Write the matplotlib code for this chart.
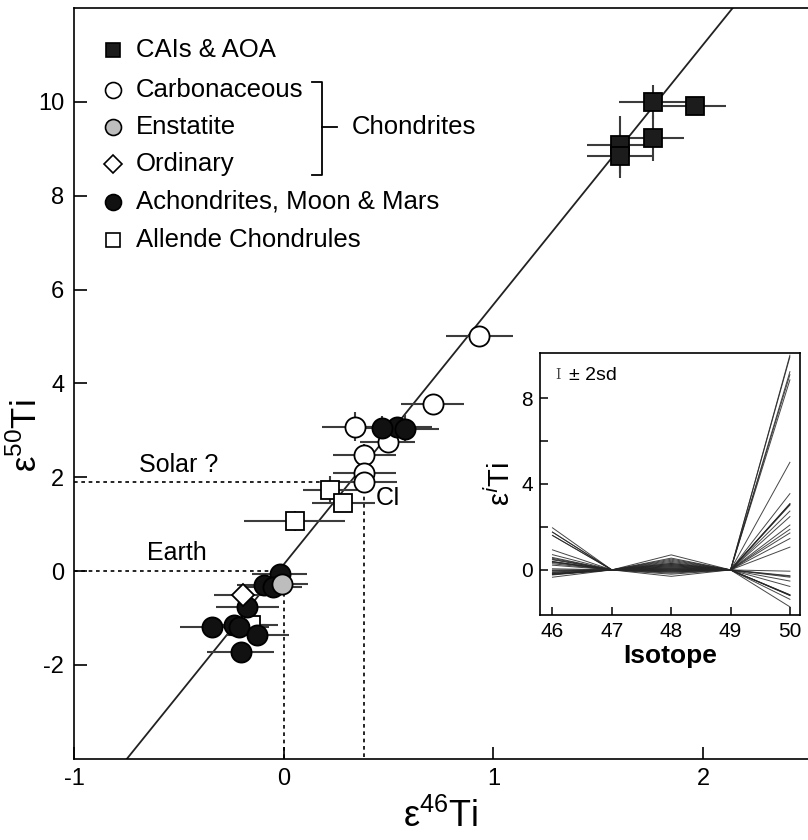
import matplotlib
matplotlib.use("Agg")
import matplotlib.pyplot as plt
import numpy as np

plt.rcParams['font.family'] = ['Liberation Sans', 'DejaVu Sans']
plt.rcParams['mathtext.fontset'] = 'custom'
plt.rcParams['mathtext.rm'] = 'Liberation Sans'

# CAIs & AOA
cai_x = [1.76, 1.96, 1.76, 1.605, 1.605]
cai_y = [10.0, 9.92, 9.23, 9.09, 8.85]
cai_xerr = [0.16, 0.15, 0.15, 0.16, 0.16]
cai_yerr = [0.36, 0.10, 0.50, 0.60, 0.47]
cai_e48 = [0.7, 0.55, 0.5, 0.45, 0.4]

# carbonaceous chondrites (last one is CI)
carb_x = [0.933, 0.71, 0.341, 0.496, 0.384, 0.384, 0.381]
carb_y = [5.01, 3.55, 3.08, 2.74, 2.48, 2.09, 1.89]
carb_xerr = [0.16, 0.15, 0.16, 0.13, 0.15, 0.15, 0.16]
carb_yerr = [0.15, 0.12, 0.30, 0.23, 0.22, 0.18, 0.10]
carb_e48 = [0.3, 0.25, 0.2, 0.15, 0.2, 0.1, 0.15]

# enstatite and ordinary chondrites
ens_x, ens_y, ens_xerr, ens_yerr, ens_e48 = [-0.006], [-0.27], [0.12], [0.12], [-0.05]
ord_x, ord_y, ord_xerr, ord_yerr, ord_e48 = [-0.193], [-0.52], [0.14], [0.15], [0.0]

# achondrites, Moon & Mars
ach_x = [0.538, 0.47, 0.58, -0.02, -0.093, -0.053, -0.173, -0.34,
         -0.236, -0.212, -0.125, -0.204]
ach_y = [3.08, 3.05, 3.02, -0.06, -0.30, -0.34, -0.77, -1.19,
         -1.16, -1.19, -1.37, -1.72]
ach_xerr = [0.17, 0.15, 0.16, 0.13, 0.13, 0.14, 0.15, 0.155,
            0.15, 0.14, 0.15, 0.16]
ach_yerr = [0.15, 0.25, 0.3, 0.15, 0.12, 0.1, 0.15, 0.12,
            0.12, 0.15, 0.12, 0.2]
ach_e48 = [0.05, 0.1, 0.0, -0.05, 0.0, -0.1, 0.05, -0.2,
           -0.1, -0.05, -0.3, -0.15]

# Allende chondrules
chon_x = [0.22, 0.285, 0.053, -0.157]
chon_y = [1.72, 1.46, 1.06, -1.16]
chon_xerr = [0.13, 0.15, 0.24, 0.13]
chon_yerr = [0.30, 0.15, 0.21, 0.15]
chon_e48 = [0.35, 0.25, 0.3, 0.05]

# correlation line and reference compositions
fit_slope, fit_intercept = 5.54, 0.14
solar_x, solar_y = 0.381, 1.89
earth_x, earth_y = 0.0, 0.0

isotopes = [46, 47, 48, 49, 50]

fig = plt.figure(figsize=(8.08, 8.4), dpi=100)
ax = fig.add_axes([74 / 808, 1 - 758.7 / 840, 1 - 74 / 808, (758.7 - 8) / 840])
xmin, xmax, ymin, ymax = -1.0, 2.5, -4.0, 12.0

ebar = dict(fmt='none', ecolor='#3c3c3c', elinewidth=1.5, capsize=0, zorder=2)
groups = [
    (cai_x, cai_y, cai_xerr, cai_yerr, dict(marker='s', ms=12.5, mfc='#1c1c1c')),
    (carb_x, carb_y, carb_xerr, carb_yerr, dict(marker='o', ms=14.5, mfc='white')),
    (chon_x, chon_y, chon_xerr, chon_yerr, dict(marker='s', ms=12.5, mfc='white')),
    (ach_x, ach_y, ach_xerr, ach_yerr, dict(marker='o', ms=14.5, mfc='#111111')),
    (ord_x, ord_y, ord_xerr, ord_yerr, dict(marker='D', ms=11, mfc='white')),
    (ens_x, ens_y, ens_xerr, ens_yerr, dict(marker='o', ms=14.5, mfc='#bdbdbd')),
]

xs = np.array([xmin, xmax])
ax.plot(xs, fit_slope * xs + fit_intercept, color='#222222', lw=1.3, zorder=1)

for gx, gy, gxe, gye, style in groups:
    ax.errorbar(gx, gy, xerr=gxe, yerr=gye, **ebar)
for gx, gy, gxe, gye, style in groups:
    ax.plot(gx, gy, ls='none', mec='black', mew=1.3, zorder=3, **style)

# Solar and Earth reference lines
dash = dict(color='black', lw=1.2, ls=(0, (2.2, 2.2)), zorder=1.5)
ax.plot([xmin, solar_x], [solar_y, solar_y], **dash)
ax.plot([solar_x, solar_x], [solar_y, ymin], **dash)
ax.plot([xmin, earth_x], [earth_y, earth_y], **dash)
ax.plot([earth_x, earth_x], [earth_y, ymin], **dash)
ax.text(-0.69, 2.25, 'Solar ?', fontsize=18, va='center', ha='left')
ax.text(-0.65, 0.38, 'Earth', fontsize=18, va='center', ha='left')
ax.text(0.44, 1.55, 'CI', fontsize=18, va='center', ha='left')

ax.set_xlim(xmin, xmax)
ax.set_ylim(ymin, ymax)
ax.set_xticks([-1, 0, 1, 2])
ax.set_xticklabels(['-1', '0', '1', '2'])
ax.set_yticks([-2, 0, 2, 4, 6, 8, 10])
ax.set_yticklabels(['-2', '0', '2', '4', '6', '8', '10'])
ax.tick_params(direction='in', length=9, width=1.2, labelsize=17, pad=7)
ax.spines['right'].set_visible(False)
for s in ['left', 'top', 'bottom']:
    ax.spines[s].set_linewidth(1.2)
ax.set_xlabel('ε$^{46}$Ti', fontsize=26, labelpad=6)
ax.set_ylabel('ε$^{50}$Ti', fontsize=25)
ax.yaxis.set_label_coords(-0.041, 0.43)

# legend drawn by hand so the chondrite bracket lines up
leg = [
    ('s', '#1c1c1c', 10, 'CAIs & AOA', 50),
    ('o', 'white', 11.5, 'Carbonaceous', 90),
    ('o', '#bdbdbd', 11.5, 'Enstatite', 127),
    ('D', 'white', 9.5, 'Ordinary', 164),
    ('o', '#111111', 11.5, 'Achondrites, Moon & Mars', 202),
    ('s', 'white', 10.5, 'Allende Chondrules', 240),
]
for mk, fc, size, label, py in leg:
    fy = 1 - py / 840
    fig.lines.append(plt.Line2D([113 / 808], [fy], marker=mk, ms=size, mfc=fc,
                                mec='black', mew=1.2, ls='none',
                                transform=fig.transFigure))
    fig.text(136 / 808, fy, label, fontsize=18.5, va='center', ha='left')
bx = [312 / 808, 322 / 808, 322 / 808, 312 / 808]
by = [1 - 82 / 840, 1 - 82 / 840, 1 - 175 / 840, 1 - 175 / 840]
fig.lines.append(plt.Line2D(bx, by, color='black', lw=1.3, transform=fig.transFigure))
fig.lines.append(plt.Line2D([322 / 808, 337 / 808], [1 - 127 / 840] * 2, color='black',
                            lw=1.3, transform=fig.transFigure))
fig.text(352 / 808, 1 - 127 / 840, 'Chondrites', fontsize=18.5, va='center', ha='left')

# inset: patterns normalised to 49Ti/47Ti
ins = fig.add_axes([540 / 808, 1 - 615 / 840, 260 / 808, 262 / 840])
all46 = cai_x + carb_x + ens_x + ord_x + ach_x + chon_x
all48 = cai_e48 + carb_e48 + ens_e48 + ord_e48 + ach_e48 + chon_e48
all50 = cai_y + carb_y + ens_y + ord_y + ach_y + chon_y
for e46, e48, e50 in zip(all46, all48, all50):
    ins.plot(isotopes, [e46, 0, e48, 0, e50], color='#262626', lw=0.7, alpha=0.85)
ins.set_xlim(45.79, 50.17)
ins.set_ylim(-2.1, 10.1)
ins.set_xticks(isotopes)
ins.set_yticks([0, 2, 4, 6, 8])
ins.set_yticklabels(['0', '', '4', '', '8'])
ins.tick_params(direction='in', length=6, width=1.1, labelsize=15, pad=5)
for s in ins.spines.values():
    s.set_linewidth(1.2)
ins.set_xlabel('Isotope', fontsize=19, fontweight='bold', labelpad=2)
ins.set_ylabel('ε$^{i}$Ti', fontsize=21, labelpad=4)
ins.text(0.06, 0.915, 'I', fontsize=10, family='DejaVu Serif', color='#444444',
         transform=ins.transAxes, va='center')
ins.text(0.11, 0.915, '± 2sd', fontsize=14, transform=ins.transAxes, va='center')

fig.savefig('out.png', dpi=100)
